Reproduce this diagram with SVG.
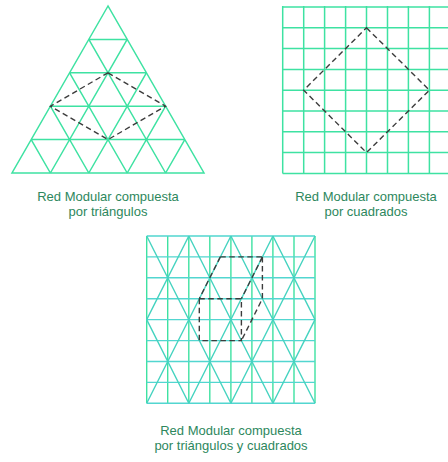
<svg xmlns="http://www.w3.org/2000/svg" width="448" height="462" viewBox="0 0 448 462">
<style>
.g{stroke:#3ee2a2;stroke-width:1.5;fill:none}
.h{stroke:#52d6d0;stroke-width:1.4;fill:none}
.v{stroke:#3ee2a2;stroke-width:1.4;fill:none}
.d{stroke:#45d3c0;stroke-width:1.4;fill:none}
.dash{stroke:#3c3c3c;stroke-width:1.4;fill:none;stroke-dasharray:5.5 3.5}
.t{font-family:"Liberation Sans",Arial,sans-serif;font-size:13px;fill:#2d875d;text-anchor:middle}
</style>
<rect width="448" height="462" fill="#ffffff"/>
<g id="triangulos">
<polygon class="g" points="108,6 12,173 204,173"/>
<path class="g" d="M88.8,39.4H127.2M69.6,72.8H146.4M50.4,106.2H165.6M31.2,139.6H184.8
M127.2,39.4L50.4,173M146.4,72.8L88.8,173M165.6,106.2L127.2,173M184.8,139.6L165.6,173
M88.8,39.4L165.6,173M69.6,72.8L127.2,173M50.4,106.2L88.8,173M31.2,139.6L50.4,173"/>
<polygon class="dash" points="108,72.8 165.6,106.2 108,139.6 50.4,106.2"/>
</g>
<g id="cuadrados">
<path class="g" d="M282.7,6V173.4M303.7,6V173.4M324.6,6V173.4M345.6,6V173.4M366.5,6V173.4M387.5,6V173.4M408.4,6V173.4M429.4,6V173.4
M282.7,7H448M282.7,27.8H448M282.7,48.6H448M282.7,69.4H448M282.7,90.2H448M282.7,111H448M282.7,131.8H448M282.7,152.6H448M282.7,173.4H448"/>
<polygon class="dash" points="366.5,27.8 429.4,90.2 366.5,152.6 303.7,90.2"/>
</g>
<g id="mixta">
<path class="v" d="M146.7,236V403.3M167.7,236V403.3M188.8,236V403.3M209.8,236V403.3M230.9,236V403.3M251.9,236V403.3M272.9,236V403.3M294,236V403.3M315,236V403.3"/>
<path class="h" d="M146.7,236H315M146.7,256.9H315M146.7,277.8H315M146.7,298.7H315M146.7,319.6H315M146.7,340.6H315M146.7,361.5H315M146.7,382.4H315M146.7,403.3H315"/>
<path class="d" d="M146.7,236L230.9,403.3M188.8,236L272.9,403.3M230.9,236L315,403.3M272.9,236L315,319.6M146.7,319.6L188.8,403.3
M188.8,236L146.7,319.6M230.9,236L146.7,403.3M272.9,236L188.8,403.3M315,236L230.9,403.3M315,319.6L272.9,403.3"/>
<path class="dash" d="M220.3,256.9H262.4M220.3,256.9L199.3,298.7M262.4,256.9L241.4,298.7M199.3,298.7H241.4M199.3,298.7V340.6H241.4V298.7M262.4,256.9V298.7L241.4,340.6"/>
</g>
<g id="textos">
<text class="t" x="108" y="201">Red Modular compuesta</text>
<text class="t" x="108" y="216">por triángulos</text>
<text class="t" x="366" y="201">Red Modular compuesta</text>
<text class="t" x="366" y="216">por cuadrados</text>
<text class="t" x="231" y="435">Red Modular compuesta</text>
<text class="t" x="231" y="450">por triángulos y cuadrados</text>
</g>
</svg>
